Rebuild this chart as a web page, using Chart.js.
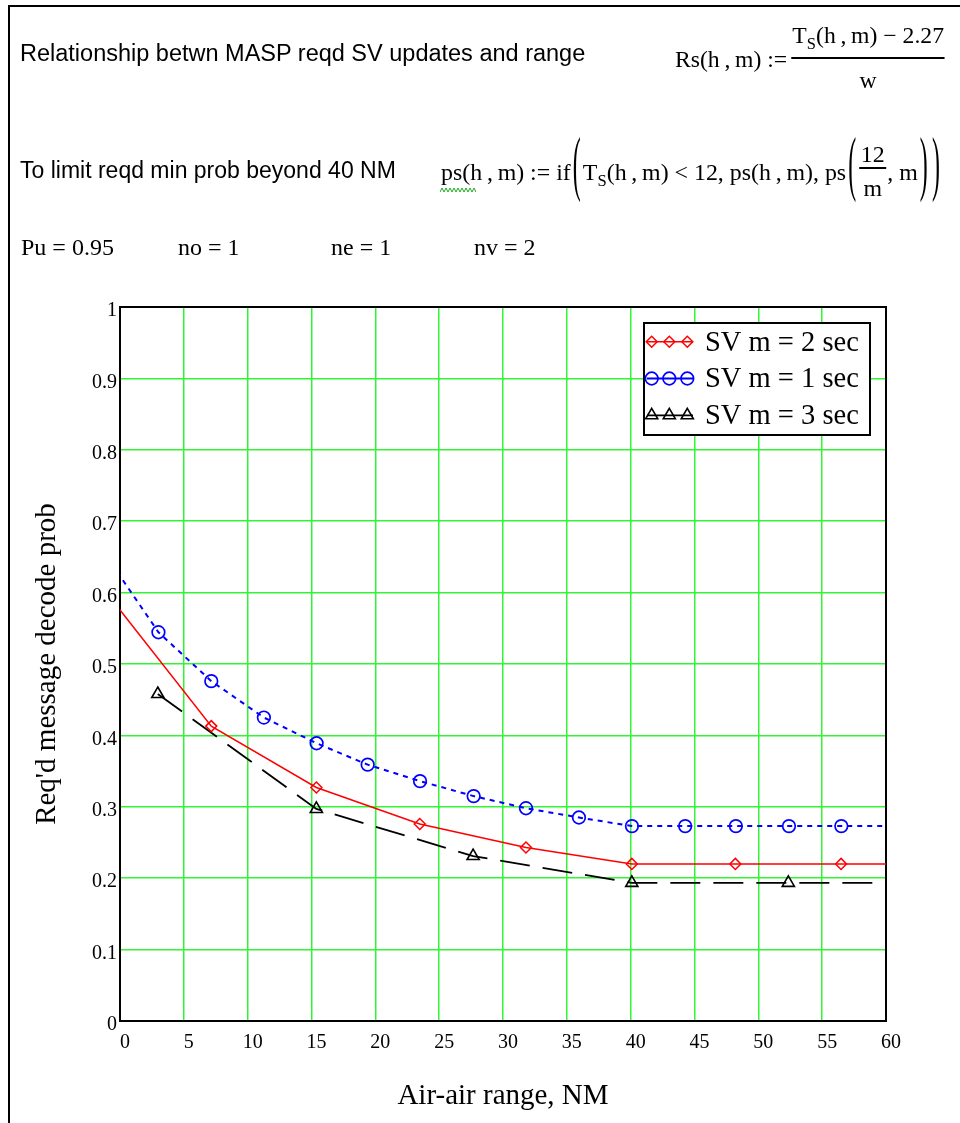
<!DOCTYPE html>
<html>
<head>
<meta charset="utf-8">
<script src="https://cdn.jsdelivr.net/npm/chart.js@4.4.1/dist/chart.umd.min.js"></script>
<style>
html,body{margin:0;padding:0;background:#fff;}
#page{position:relative;width:960px;height:1123px;overflow:hidden;background:#fff;}
#frame{position:absolute;left:8px;top:5px;width:1000px;height:1200px;border-left:2px solid #000;border-top:2px solid #000;z-index:0;}
.t{position:absolute;white-space:nowrap;line-height:1;color:#000;z-index:2;}
.sans{font-family:'Liberation Sans',Arial,sans-serif;font-size:23.5px;}
.serif{font-family:'Liberation Serif','Times New Roman',serif;font-size:23px;}
.row{display:flex;align-items:flex-start;transform-origin:0 0;}
.row>span{display:block;height:23px;line-height:1;}
.sub{font-size:16px;position:relative;top:6px;}
.paren{transform-origin:50% 13.4px;transform:translateY(-5.1px) scaleY(3.1);margin:0 2px;}
.frac{position:relative;}
.frac .num{display:block;position:relative;top:-24.5px;padding:0 1px;}
.frac .bar{position:absolute;left:0;right:0;top:9px;height:1.5px;background:#000;}
.frac .den{position:absolute;left:0;right:0;top:20.8px;text-align:center;}
.frac2{position:relative;width:28px;}
.frac2 .n2{position:absolute;left:0;right:0;top:-18px;text-align:center;}
.frac2 .bar{position:absolute;left:1px;right:1px;top:6.5px;height:1.5px;background:#000;}
.frac2 .d2{position:absolute;left:0;right:0;top:16px;text-align:center;}
#squig{position:absolute;left:440px;top:187px;z-index:2;}
#c{position:absolute;left:0;top:0;z-index:1;}
</style>
</head>
<body>
<div id="page">
  <div id="frame"></div>

  <div class="t sans" style="left:20px;top:41.5px;">Relationship betwn MASP reqd SV updates and range</div>

  <div class="t serif row" id="f1" style="left:675px;top:48px;" data-w="270">
    <span>Rs(h&#8201;,&#8201;m) :=</span>
    <span class="frac" style="margin-left:4px;">
      <span class="num">T<span class="sub">S</span>(h&#8201;,&#8201;m) &#8722; 2.27</span>
      <span class="bar"></span>
      <span class="den">w</span>
    </span>
  </div>

  <div class="t sans" style="left:20px;top:158.5px;font-size:23px;">To limit reqd min prob beyond 40 NM</div>

  <div class="t serif row" id="f2" style="left:441px;top:160.7px;" data-w="501">
    <span>ps(h&#8201;,&#8201;m) := if</span>
    <span class="paren">(</span>
    <span>T<span class="sub">S</span>(h&#8201;,&#8201;m) &lt; 12, ps(h&#8201;,&#8201;m), ps</span>
    <span class="paren">(</span>
    <span class="frac2"><span class="n2">12</span><span class="bar"></span><span class="d2">m</span></span>
    <span>, m</span>
    <span class="paren">)</span>
    <span class="paren">)</span>
  </div>
  <svg id="squig" width="36" height="7"></svg>

  <div class="t serif" style="font-size:24px;left:21px;top:235px;">Pu = 0.95</div>
  <div class="t serif" style="font-size:24px;left:178px;top:235px;">no = 1</div>
  <div class="t serif" style="font-size:24px;left:331px;top:235px;">ne = 1</div>
  <div class="t serif" style="font-size:24px;left:474px;top:235px;">nv = 2</div>

  <canvas id="c" width="960" height="1123"></canvas>
</div>

<script>
// ---------------- data ----------------
const seriesLabels = ['SV m = 2 sec', 'SV m = 1 sec', 'SV m = 3 sec'];

// m = 2 sec (red, diamonds); first/last samples lie just outside the axis range
const rangeM2 = [-1.07, 7.15, 15.38, 23.48, 31.8, 40.09, 48.2, 56.48, 64.7];
const probM2  = [0.600, 0.413, 0.327, 0.276, 0.243, 0.220, 0.220, 0.220, 0.220];

// m = 1 sec (blue, circles)
const rangeM1 = [-1.1, 3.01, 7.15, 11.27, 15.4, 19.4, 23.5, 27.7, 31.8, 35.95, 40.1, 44.27, 48.24, 52.4, 56.5, 60.6];
const probM1  = [0.652, 0.5445, 0.476, 0.425, 0.389, 0.359, 0.336, 0.315, 0.298, 0.285, 0.273, 0.273, 0.273, 0.273, 0.273, 0.273];

// m = 3 sec (black, triangles)
const rangeM3 = [2.96, 15.38, 27.66, 40.09, 52.35, 64.6];
const probM3  = [0.458, 0.297, 0.231, 0.1935, 0.1935, 0.1935];

const xTickLabels = ['0','5','10','15','20','25','30','35','40','45','50','55','60'];
const yTickLabels = ['0','0.1','0.2','0.3','0.4','0.5','0.6','0.7','0.8','0.9','1'];

const xTitle = 'Air-air range, NM';
const yTitle = "Req'd message decode prob";

// ---------------- header helpers ----------------
document.querySelectorAll('[data-w]').forEach(el => {
  const target = parseFloat(el.dataset.w);
  const w = el.getBoundingClientRect().width;
  if (w > 0) el.style.transform = 'scaleX(' + (target / w) + ')';
});
(function(){
  const svg = document.getElementById('squig');
  let pts = [];
  for (let i = 0; i <= 18; i++) pts.push((i * 2) + ',' + (i % 2 ? 1 : 5));
  svg.innerHTML = '<polyline points="' + pts.join(' ') + '" fill="none" stroke="#22aa22" stroke-width="1"/>';
})();

// ---------------- chart ----------------
const SERIF = "'Liberation Serif','Times New Roman',serif";
Chart.defaults.font.family = SERIF;
Chart.defaults.color = '#000';

const toXY = (xs, ys) => xs.map((x, i) => ({x: x, y: ys[i]}));

const framePlugin = {
  id: 'frame',
  beforeDatasetsDraw(chart) {
    const {ctx, chartArea: a} = chart;
    ctx.save();
    ctx.strokeStyle = '#000';
    ctx.lineWidth = 2;
    ctx.strokeRect(a.left, a.top, a.right - a.left, a.bottom - a.top);
    ctx.restore();
  }
};

const boxLegend = {
  id: 'boxLegend',
  afterDatasetsDraw(chart) {
    const {ctx, chartArea: a} = chart;
    const bx = a.right - 242, by = a.top + 16, bw = 226, bh = 112;
    ctx.save();
    ctx.setLineDash([]);
    ctx.fillStyle = '#fff';
    ctx.fillRect(bx, by, bw, bh);
    ctx.lineWidth = 2;
    ctx.strokeStyle = '#000';
    ctx.strokeRect(bx, by, bw, bh);
    chart.data.datasets.forEach((ds, i) => {
      const cy = by + 18.7 + i * 36.8;
      ctx.setLineDash([]);
      ctx.strokeStyle = ds.borderColor;
      ctx.lineWidth = ds.borderWidth;
      ctx.beginPath();
      ctx.moveTo(bx + 3, cy);
      ctx.lineTo(bx + 49, cy);
      ctx.stroke();
      [7.7, 25.3, 43.3].forEach(dx => {
        ctx.fillStyle = 'rgba(0,0,0,0)';
        ctx.strokeStyle = ds.pointBorderColor;
        ctx.lineWidth = ds.pointBorderWidth;
        Chart.helpers.drawPoint(ctx, {pointStyle: ds.pointStyle, radius: ds.pointRadius, borderWidth: ds.pointBorderWidth, rotation: 0}, bx + dx, cy);
      });
      ctx.fillStyle = '#000';
      ctx.font = "28.5px " + SERIF;
      ctx.textAlign = 'left';
      ctx.textBaseline = 'alphabetic';
      ctx.fillText(ds.label, bx + 61, cy + 8.8);
    });
    ctx.restore();
  }
};

new Chart(document.getElementById('c'), {
  type: 'line',
  data: {
    datasets: [
      {
        label: seriesLabels[0],
        data: toXY(rangeM2, probM2),
        borderColor: '#ff0000', borderWidth: 1.5,
        pointStyle: 'rectRot', pointRadius: 5.5,
        pointBorderColor: '#ff0000', pointBackgroundColor: 'rgba(0,0,0,0)', pointBorderWidth: 1.5,
        tension: 0, fill: false, clip: 0
      },
      {
        label: seriesLabels[1],
        data: toXY(rangeM1, probM1),
        borderColor: '#0000ff', borderWidth: 2, borderDash: [5, 5],
        pointStyle: 'circle', pointRadius: 6.3,
        pointBorderColor: '#0000ff', pointBackgroundColor: 'rgba(0,0,0,0)', pointBorderWidth: 1.7,
        tension: 0, fill: false, clip: 0
      },
      {
        label: seriesLabels[2],
        data: toXY(rangeM3, probM3),
        borderColor: '#000000', borderWidth: 1.8, borderDash: [30, 13],
        pointStyle: 'triangle', pointRadius: 7,
        pointBorderColor: '#000000', pointBackgroundColor: 'rgba(0,0,0,0)', pointBorderWidth: 1.6,
        tension: 0, fill: false, clip: 0
      }
    ]
  },
  options: {
    responsive: false,
    animation: false,
    devicePixelRatio: 1,
    events: [],
    layout: {padding: {left: 0, right: 74, top: 307, bottom: 0}},
    plugins: {legend: {display: false}, tooltip: {enabled: false}},
    scales: {
      x: {
        type: 'linear', min: 0, max: 60,
        afterFit(scale) { scale.height = 102; },
        grid: {color: 'rgb(50,245,50)', lineWidth: 1.5, drawTicks: false},
        border: {display: false},
        ticks: {
          stepSize: 5, autoSkip: false, maxRotation: 0, padding: 10, labelOffset: 5,
          font: {size: 20, family: SERIF}, color: '#000',
          callback: (v, i) => xTickLabels[i]
        },
        title: {display: true, text: xTitle, font: {size: 29, family: SERIF}, color: '#000', padding: {top: 0, bottom: 9}}
      },
      y: {
        type: 'linear', min: 0, max: 1,
        afterFit(scale) { scale.width = 120; },
        grid: {color: 'rgb(50,245,50)', lineWidth: 1.5, drawTicks: false},
        border: {display: false},
        ticks: {
          stepSize: 0.1, autoSkip: false, padding: 3, labelOffset: 4,
          font: {size: 20, family: SERIF}, color: '#000',
          callback: (v, i) => yTickLabels[i]
        },
        title: {display: true, text: yTitle, font: {size: 29, family: SERIF}, color: '#000', padding: {top: 30, bottom: 0}}
      }
    }
  },
  plugins: [framePlugin, boxLegend]
});
</script>
</body>
</html>
